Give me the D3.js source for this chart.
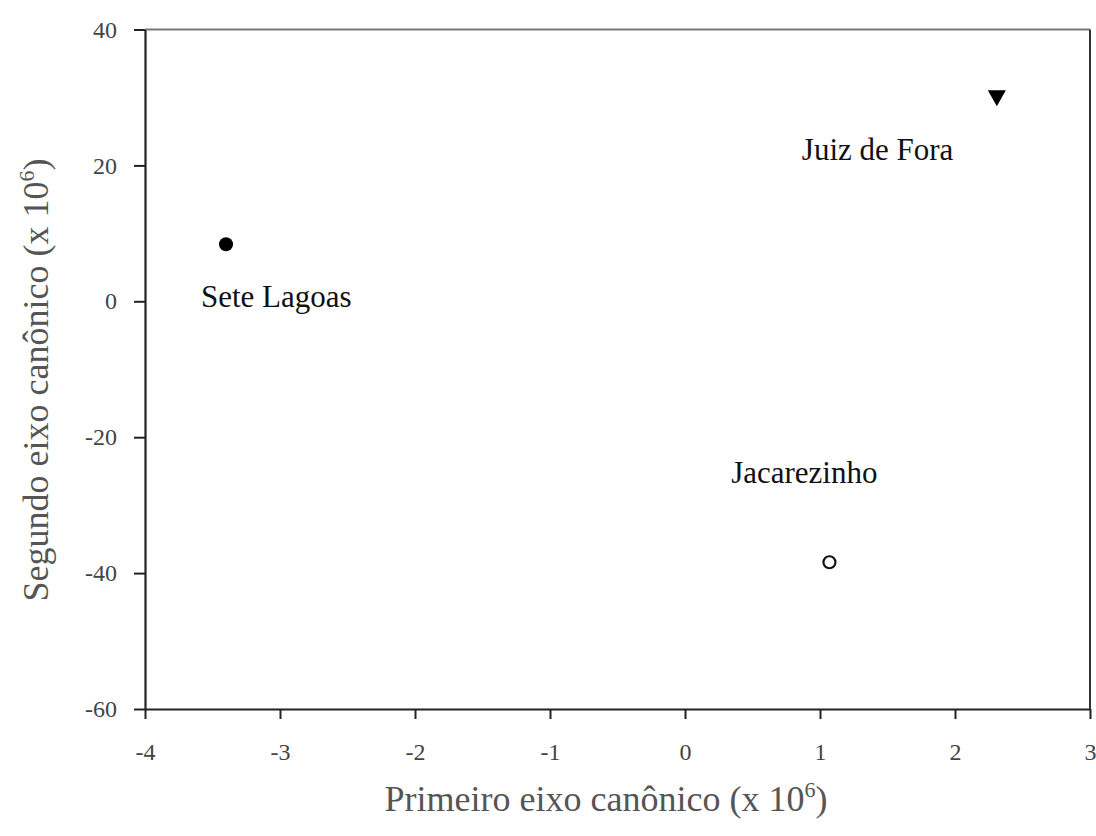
<!DOCTYPE html>
<html>
<head>
<meta charset="utf-8">
<script src="https://cdn.jsdelivr.net/npm/d3@7"></script>
<style>
  html, body { margin: 0; padding: 0; background: #fff; }
  svg { display: block; }
  svg text { font-family: "Liberation Serif", "Times New Roman", serif; }
  .tick text { fill: #444; font-size: 24px; }
  .axis-title { fill: #555; font-size: 36px; }
  .site-label { fill: #111; font-size: 31px; }
</style>
</head>
<body>
<div id="chart"></div>
<script>
  // sites and canonical scores (x 10^6)
  const sites = ["Sete Lagoas", "Juiz de Fora", "Jacarezinho"];
  const firstAxis = [-3.40, 2.31, 1.07];
  const secondAxis = [8.4, 29.9, -38.4];
  const markers = ["filled", "triangle", "open"];

  const xTicks = [-4, -3, -2, -1, 0, 1, 2, 3];
  const yTicks = [40, 20, 0, -20, -40, -60];

  // label placement relative to each point
  const labelOffset = new Map([
    ["Sete Lagoas", { dx: -25, dy: 63, anchor: "start" }],
    ["Juiz de Fora", { dx: -195, dy: 62, anchor: "start" }],
    ["Jacarezinho", { dx: 48, dy: -79, anchor: "end" }]
  ]);

  const width = 1096, height = 836;
  const margin = { top: 29.5, right: 6, bottom: 127, left: 145 };
  const serif = '"Liberation Serif", "Times New Roman", serif';
  const fmt = (d) => String(d); // plain hyphen, as in the figure

  const svg = d3.select("#chart").append("svg")
    .attr("width", width)
    .attr("height", height);

  const x = d3.scaleLinear().domain([-4, 3]).range([margin.left, width - margin.right]);
  const y = d3.scaleLinear().domain([-60, 40]).range([height - margin.bottom, margin.top]);

  // frame: top and right
  svg.append("line")
    .attr("x1", x(-4)).attr("x2", x(3))
    .attr("y1", y(40)).attr("y2", y(40))
    .attr("stroke", "#777").attr("stroke-width", 2);
  svg.append("line")
    .attr("x1", x(3)).attr("x2", x(3))
    .attr("y1", y(40)).attr("y2", y(-60))
    .attr("stroke", "#333").attr("stroke-width", 2);

  const styleAxis = (g) => {
    g.attr("font-family", null).attr("font-size", null);
    g.select(".domain").attr("stroke", "#222").attr("stroke-width", 2.2);
    g.selectAll(".tick line").attr("stroke", "#222").attr("stroke-width", 2);
    g.selectAll(".tick text").style("font-family", serif);
  };

  svg.append("g")
    .attr("transform", `translate(0,${y(-60)})`)
    .call(d3.axisBottom(x).tickValues(xTicks).tickSize(10).tickSizeOuter(0).tickPadding(24)
      .tickFormat(fmt))
    .call(styleAxis);

  svg.append("g")
    .attr("transform", `translate(${x(-4)},0)`)
    .call(d3.axisLeft(y).tickValues(yTicks).tickSize(11).tickSizeOuter(0).tickPadding(17)
      .tickFormat(fmt))
    .call(styleAxis);

  // axis titles
  const xTitle = svg.append("text")
    .attr("class", "axis-title")
    .style("font-family", serif)
    .attr("x", 606)
    .attr("y", 811)
    .attr("text-anchor", "middle");
  xTitle.append("tspan").text("Primeiro eixo canônico (x 10");
  xTitle.append("tspan").attr("dy", -14).attr("font-size", 22).text("6");
  xTitle.append("tspan").attr("dy", 14).text(")");

  const yTitle = svg.append("text")
    .attr("class", "axis-title")
    .style("font-family", serif)
    .attr("transform", `translate(48,380) rotate(-90)`)
    .attr("text-anchor", "middle");
  yTitle.append("tspan").text("Segundo eixo canônico (x 10");
  yTitle.append("tspan").attr("dy", -14).attr("font-size", 22).text("6");
  yTitle.append("tspan").attr("dy", 14).text(")");

  // points
  const data = sites.map((name, i) => ({
    name, px: firstAxis[i], py: secondAxis[i], marker: markers[i]
  }));

  const pts = svg.append("g").selectAll("g")
    .data(data)
    .join("g")
    .attr("transform", (d) => `translate(${x(d.px)},${y(d.py)})`);

  pts.filter((d) => d.marker === "filled").append("circle")
    .attr("r", 7).attr("fill", "#000");

  pts.filter((d) => d.marker === "open").append("circle")
    .attr("r", 6).attr("fill", "#fff").attr("stroke", "#111").attr("stroke-width", 2.2);

  pts.filter((d) => d.marker === "triangle").append("path")
    .attr("d", "M-9,-8 L9,-8 L0,8 Z").attr("fill", "#000");

  pts.append("text")
    .attr("class", "site-label")
    .style("font-family", serif)
    .attr("x", (d) => labelOffset.get(d.name).dx)
    .attr("y", (d) => labelOffset.get(d.name).dy)
    .attr("text-anchor", (d) => labelOffset.get(d.name).anchor)
    .text((d) => d.name);
</script>
</body>
</html>
